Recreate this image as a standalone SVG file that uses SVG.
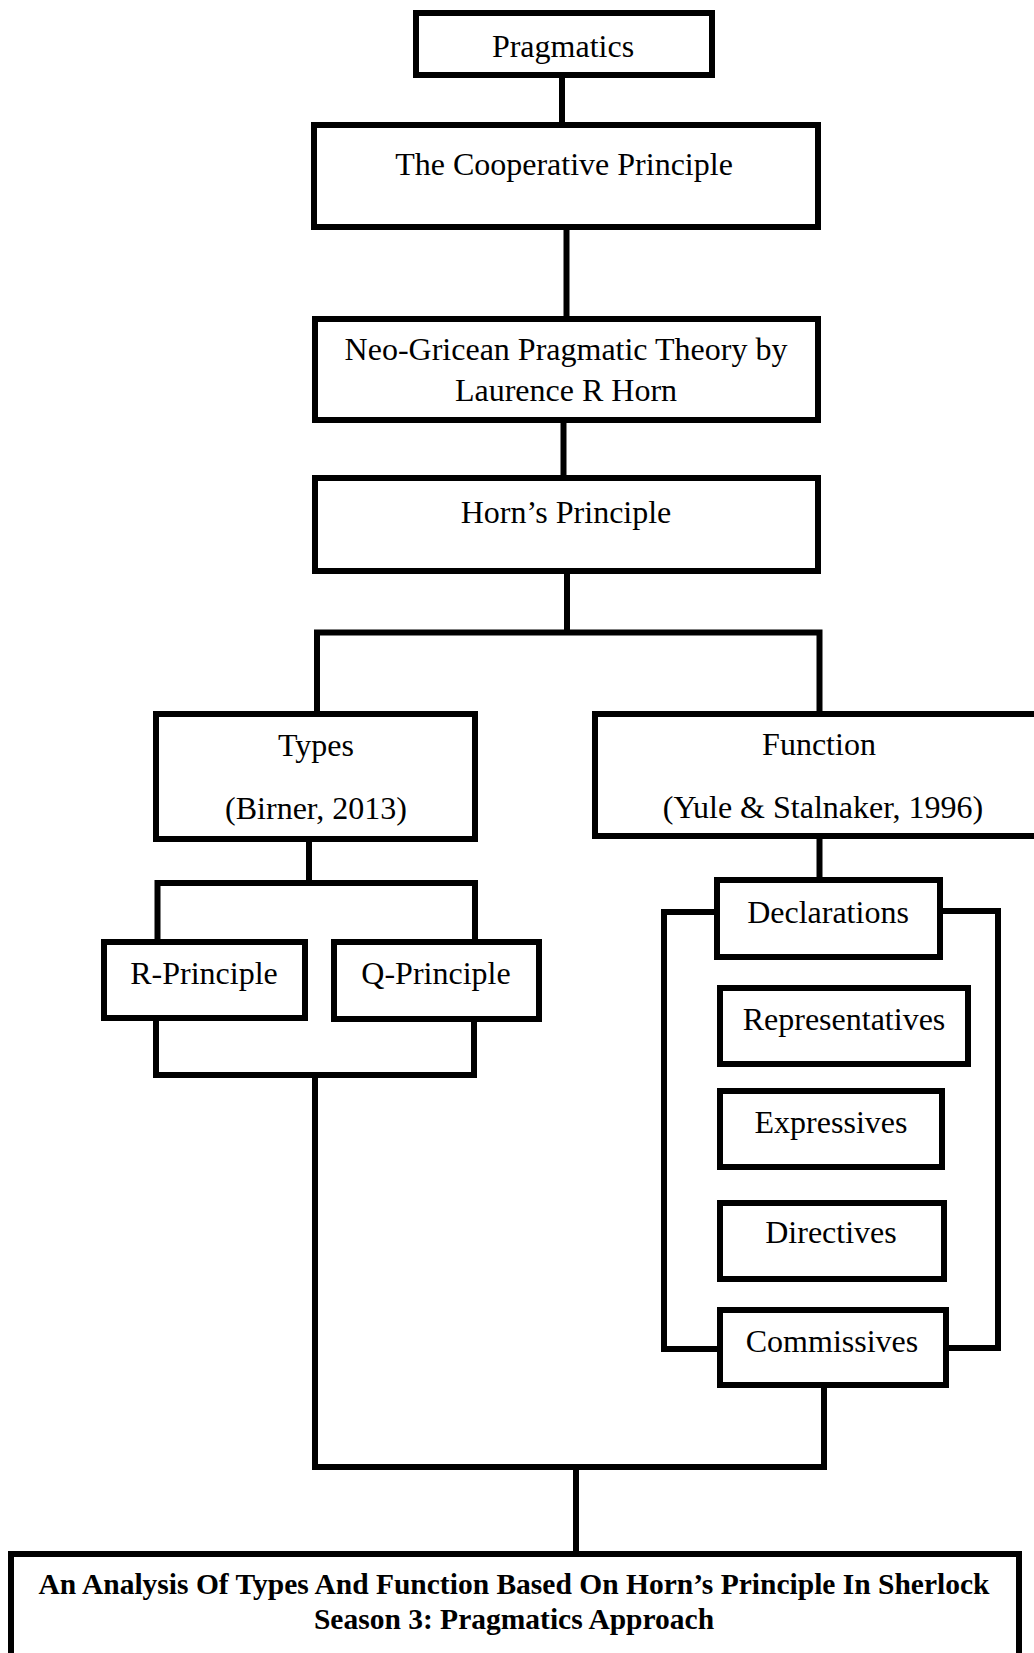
<svg xmlns="http://www.w3.org/2000/svg" width="1034" height="1653" viewBox="0 0 1034 1653">
<style>
.box{fill:#fff;stroke:#000;stroke-width:6}
.t{font-family:"Liberation Serif","Times New Roman",serif;font-size:32px;fill:#000;text-anchor:middle}
.b{font-family:"Liberation Serif","Times New Roman",serif;font-size:29.5px;font-weight:bold;fill:#000;text-anchor:middle}
.c{fill:none;stroke:#000;stroke-width:6;stroke-linejoin:miter;stroke-linecap:square}
</style>
<rect width="1034" height="1653" fill="#fff"/>
<g id="connectors">
<path class="c" d="M562 78 V122"/>
<path class="c" d="M566.5 230 V316"/>
<path class="c" d="M563.5 423 V475"/>
<path class="c" d="M567 574 V632"/>
<path class="c" d="M317 711 V632.5 H819.5 V711"/>
<path class="c" d="M309 842 V883"/>
<path class="c" d="M157.5 939 V883 H475 V939"/>
<path class="c" d="M156 1021 V1075 H474 V1022"/>
<path class="c" d="M315 1075 V1467 H824 V1388"/>
<path class="c" d="M576 1467 V1551"/>
<path class="c" d="M819.5 839 V877"/>
<path class="c" d="M714 912 H664 V1349 H717"/>
<path class="c" d="M943 911 H998 V1348 H949"/>
</g>
<g id="pragmatics"><rect class="box" x="416" y="13" width="296" height="62"/><text class="t" x="563" y="57">Pragmatics</text></g>
<g id="cooperative"><rect class="box" x="314" y="125" width="504" height="102"/><text class="t" x="564" y="175">The Cooperative Principle</text></g>
<g id="neo"><rect class="box" x="315" y="319" width="503" height="101"/><text class="t" x="566" y="360">Neo-Gricean Pragmatic Theory by</text><text class="t" x="566" y="401">Laurence R Horn</text></g>
<g id="horn"><rect class="box" x="315" y="478" width="503" height="93"/><text class="t" x="566" y="523">Horn’s Principle</text></g>
<g id="types"><rect class="box" x="156" y="714" width="319" height="125"/><text class="t" x="316" y="756">Types</text><text class="t" x="316" y="819">(Birner, 2013)</text></g>
<g id="function"><rect class="box" x="595" y="714" width="460" height="122"/><text class="t" x="819" y="755">Function</text><text class="t" x="823" y="818">(Yule &amp; Stalnaker, 1996)</text></g>
<g id="r-principle"><rect class="box" x="104" y="942" width="201" height="76"/><text class="t" x="204" y="984">R-Principle</text></g>
<g id="q-principle"><rect class="box" x="334" y="942" width="205" height="77"/><text class="t" x="436" y="984">Q-Principle</text></g>
<g id="declarations"><rect class="box" x="717" y="880" width="223" height="77"/><text class="t" x="828" y="923">Declarations</text></g>
<g id="representatives"><rect class="box" x="720" y="988" width="248" height="76"/><text class="t" x="844" y="1030">Representatives</text></g>
<g id="expressives"><rect class="box" x="720" y="1091" width="222" height="76"/><text class="t" x="831" y="1133">Expressives</text></g>
<g id="directives"><rect class="box" x="720" y="1203" width="224" height="76"/><text class="t" x="831" y="1243">Directives</text></g>
<g id="commissives"><rect class="box" x="720" y="1310" width="226" height="75"/><text class="t" x="832" y="1352">Commissives</text></g>
<g id="title"><rect class="box" x="11" y="1554" width="1008" height="200"/><text class="b" x="514" y="1594">An Analysis Of Types And Function Based On Horn’s Principle In Sherlock</text><text class="b" x="514" y="1629">Season 3: Pragmatics Approach</text></g>
</svg>
